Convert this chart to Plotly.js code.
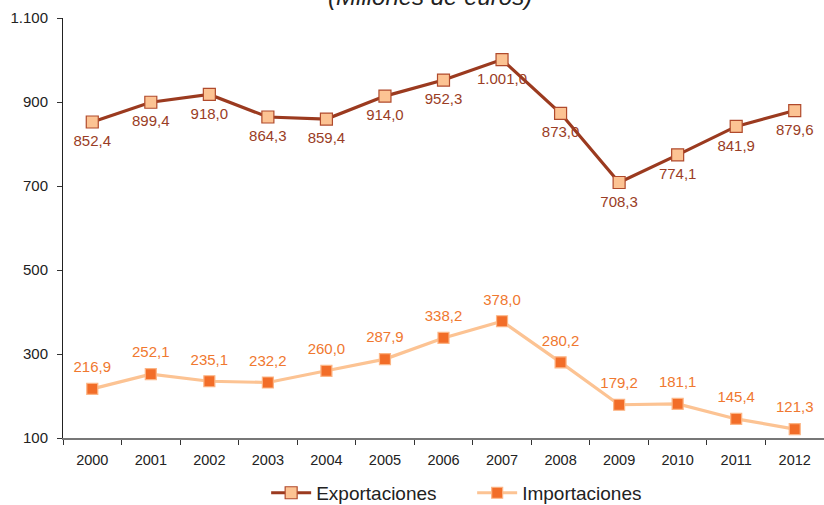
<!DOCTYPE html>
<html>
<head>
<meta charset="utf-8">
<script src="https://cdn.plot.ly/plotly-3.0.1.min.js"></script>
<style>html,body{margin:0;padding:0;background:#fff;}#chart{width:824px;height:505px;}</style>
</head>
<body>
<div id="chart"></div>
<script>
var years = ['2000','2001','2002','2003','2004','2005','2006','2007','2008','2009','2010','2011','2012'];
var exportaciones = [852.4, 899.4, 918.0, 864.3, 859.4, 914.0, 952.3, 1001.0, 873.0, 708.3, 774.1, 841.9, 879.6];
var importaciones = [216.9, 252.1, 235.1, 232.2, 260.0, 287.9, 338.2, 378.0, 280.2, 179.2, 181.1, 145.4, 121.3];
var yTicks = [100, 300, 500, 700, 900, 1100];

function thousands(s) { return s.replace(/\B(?=(\d{3})+(?!\d))/g, '.'); }
function fmt(v) {
  var parts = v.toFixed(1).split('.');
  return thousands(parts[0]) + ',' + parts[1];
}
var boundaries = years.map(function(_, i){ return i - 0.5; }).concat([years.length - 0.5]);
var FONT = 'Liberation Sans, Arial, sans-serif';

var traces = [
  {
    x: years, y: exportaciones, name: 'Exportaciones', type: 'scatter', mode: 'lines+markers',
    line: {color: '#9b3a1f', width: 3.2},
    marker: {symbol: 'square', size: 12, color: '#fcc393', line: {color: '#b04a2c', width: 1.2}},
    cliponaxis: false
  },
  {
    x: years, y: importaciones, name: 'Importaciones', type: 'scatter', mode: 'lines+markers',
    line: {color: '#fcc393', width: 3.2},
    marker: {symbol: 'square', size: 11, color: '#f26d28', line: {color: '#fcb585', width: 1.2}},
    cliponaxis: false
  },
  {
    x: years, y: exportaciones, type: 'scatter', mode: 'markers+text', showlegend: false, hoverinfo: 'skip',
    text: exportaciones.map(fmt), textposition: 'bottom center',
    textfont: {family: FONT, size: 15, color: '#9a3d25'},
    marker: {size: 19, color: 'rgba(0,0,0,0)', line: {width: 0}},
    cliponaxis: false
  },
  {
    x: years, y: importaciones, type: 'scatter', mode: 'markers+text', showlegend: false, hoverinfo: 'skip',
    text: importaciones.map(fmt), textposition: 'top center',
    textfont: {family: FONT, size: 15, color: '#f0782f'},
    marker: {size: 19, color: 'rgba(0,0,0,0)', line: {width: 0}},
    cliponaxis: false
  }
];

var layout = {
  width: 824, height: 505,
  margin: {l: 63, r: 0, t: 18, b: 67},
  paper_bgcolor: '#ffffff', plot_bgcolor: '#ffffff',
  separators: ',.',
  font: {family: FONT, color: '#222222'},
  title: {
    text: '(Millones de euros)',
    font: {family: FONT, size: 24, color: '#222222', style: 'italic'},
    x: 0.522, xanchor: 'center', xref: 'container',
    y: 1, yanchor: 'bottom', yref: 'paper', pad: {b: 13}, automargin: false
  },
  xaxis: {
    type: 'category', range: [-0.5, 12.5],
    showline: true, linecolor: '#777777', linewidth: 1.5,
    ticks: 'outside', tickson: 'boundaries', ticklen: 5, tickcolor: '#333333', tickwidth: 1,
    ticklabelstandoff: 8,
    tickfont: {size: 14.5, color: '#222222'},
    showgrid: false, zeroline: false, fixedrange: true
  },
  xaxis2: {
    overlaying: 'x', range: [-0.5, 12.5], tickmode: 'array', tickvals: boundaries,
    ticks: 'inside', ticklen: 5, tickcolor: '#333333', tickwidth: 1,
    showticklabels: false, showline: false, showgrid: false, zeroline: false, fixedrange: true
  },
  yaxis: {
    range: [100, 1100], tickmode: 'array', tickvals: yTicks,
    ticktext: yTicks.map(function(v){ return thousands(String(v)); }),
    showline: true, linecolor: '#222222', linewidth: 1,
    ticks: 'outside', ticklen: 5, tickcolor: '#333333',
    ticklabelstandoff: 6,
    tickfont: {size: 15, color: '#222222'},
    showgrid: false, zeroline: false, fixedrange: true
  },
  yaxis2: {
    overlaying: 'y', side: 'left', range: [100, 1100], tickmode: 'array', tickvals: yTicks,
    ticks: 'inside', ticklen: 5, tickcolor: '#333333',
    showticklabels: false, showline: false, showgrid: false, zeroline: false, fixedrange: true
  },
  showlegend: true,
  legend: {
    orientation: 'h', x: 0.573, xanchor: 'center', xref: 'container',
    y: 0.024, yanchor: 'middle', yref: 'container',
    font: {size: 19, color: '#222222'}, traceorder: 'normal', itemwidth: 40,
    entrywidth: 151, entrywidthmode: 'pixels'
  }
};

Plotly.newPlot('chart', traces, layout, {displayModeBar: false, staticPlot: true});
</script>
</body>
</html>
